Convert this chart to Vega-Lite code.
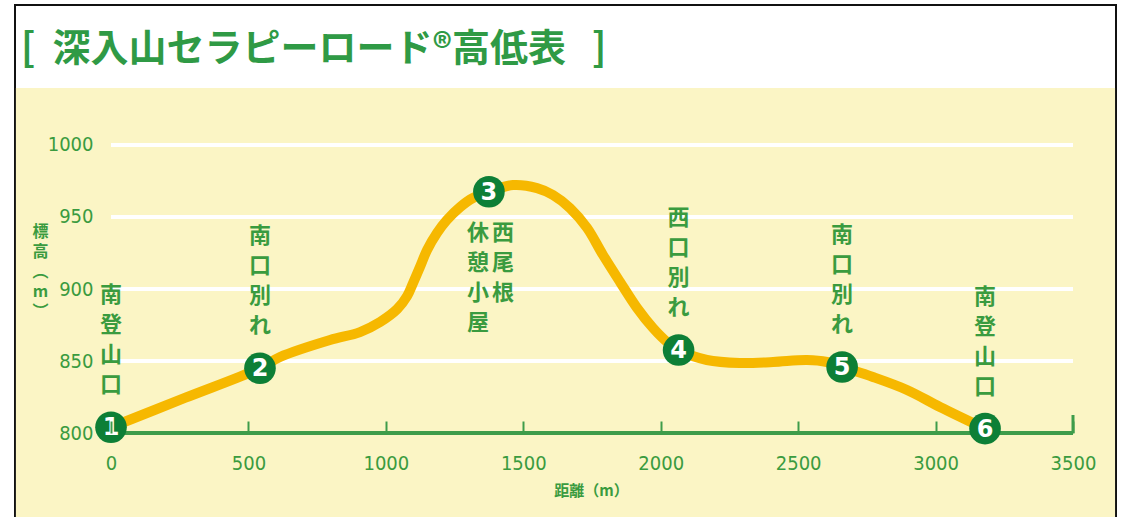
{
  "$schema": "https://vega.github.io/schema/vega-lite/v6.json",
  "width": 1101,
  "height": 514,
  "autosize": {"type": "none"},
  "padding": {"left": 15, "top": 5, "right": 6, "bottom": 0},
  "background": "white",
  "config": {
    "view": {"stroke": "#111111", "strokeWidth": 2, "fill": "white"}
  },
  "title": {
    "text": "[\u00a0\u00a0深入山セラピーロード®高低表\u00a0\u00a0\u00a0]",
    "anchor": "start",
    "frame": "group",
    "orient": "top",
    "offset": -83,
    "baseline": "middle",
    "dx": 6,
    "font": "Noto Sans CJK JP",
    "fontSize": 38,
    "fontWeight": "bold",
    "color": "#2F9A45"
  },
  "datasets": {
    "panel": [{"area": "plot"}],
    "grid": [{"elev": 850}, {"elev": 900}, {"elev": 950}, {"elev": 1000}],
    "base": [{"elev": 800}],
    "endtick": [{"dist": 3500}],
    "profile": [
      {"dist": 0, "elev": 804},
      {"dist": 271, "elev": 824.5},
      {"dist": 542, "elev": 845},
      {"dist": 615, "elev": 852.8},
      {"dist": 797, "elev": 864.6},
      {"dist": 906, "elev": 870.1},
      {"dist": 979, "elev": 877.1},
      {"dist": 1041, "elev": 886},
      {"dist": 1077, "elev": 895},
      {"dist": 1099, "elev": 904.2},
      {"dist": 1124, "elev": 915.3},
      {"dist": 1150, "elev": 927.1},
      {"dist": 1186, "elev": 938.9},
      {"dist": 1222, "elev": 947.9},
      {"dist": 1270, "elev": 956.9},
      {"dist": 1317, "elev": 963.2},
      {"dist": 1375, "elev": 967.5},
      {"dist": 1463, "elev": 972.2},
      {"dist": 1550, "elev": 970.1},
      {"dist": 1608, "elev": 965.3},
      {"dist": 1670, "elev": 956.2},
      {"dist": 1732, "elev": 942.4},
      {"dist": 1790, "elev": 923.6},
      {"dist": 1852, "elev": 904.9},
      {"dist": 1914, "elev": 886.8},
      {"dist": 1972, "elev": 872.9},
      {"dist": 2023, "elev": 863.2},
      {"dist": 2065, "elev": 857.6},
      {"dist": 2168, "elev": 850.7},
      {"dist": 2288, "elev": 848.6},
      {"dist": 2409, "elev": 849.3},
      {"dist": 2532, "elev": 850.7},
      {"dist": 2605, "elev": 849.3},
      {"dist": 2660, "elev": 845.8},
      {"dist": 2772, "elev": 838.9},
      {"dist": 2896, "elev": 829.9},
      {"dist": 3016, "elev": 818.1},
      {"dist": 3180, "elev": 803}
    ],
    "points": [
      {"no": "1", "dist": 0, "elev": 804},
      {"no": "2", "dist": 542, "elev": 845},
      {"no": "3", "dist": 1375, "elev": 967.5},
      {"no": "4", "dist": 2065, "elev": 857.6},
      {"no": "5", "dist": 2660, "elev": 845.8},
      {"no": "6", "dist": 3180, "elev": 803}
    ],
    "labels": [
      {"dist": 0, "elev": 804, "name": "南\n登\n山\n口"},
      {"dist": 542, "elev": 845, "name": "南\n口\n別\nれ"},
      {"dist": 2065, "elev": 857.6, "name": "西\n口\n別\nれ"},
      {"dist": 2660, "elev": 845.8, "name": "南\n口\n別\nれ"},
      {"dist": 3180, "elev": 803, "name": "南\n登\n山\n口"}
    ],
    "labels3": [
      {"dist": 1375, "elev": 967.5, "name": "西\n尾\n根", "col": "right"},
      {"dist": 1375, "elev": 967.5, "name": "休\n憩\n小\n屋", "col": "left"}
    ]
  },
  "layer": [
    {
      "data": {"name": "panel"},
      "mark": {"type": "rect", "color": "#FBF5C5"},
      "encoding": {
        "x": {"datum": -346, "type": "quantitative", "scale": {"domain": [-349.27, 3656.44], "nice": false, "zero": false}},
        "x2": {"datum": 3653},
        "y": {"datum": 1039.6, "type": "quantitative", "scale": {"domain": [740.28, 1097.22], "nice": false, "zero": false}},
        "y2": {"datum": 740.28}
      }
    },
    {
      "data": {"name": "grid"},
      "mark": {"type": "rule", "color": "white", "strokeWidth": 4},
      "encoding": {
        "x": {"datum": 0, "type": "quantitative", "scale": {"domain": [-349.27, 3656.44], "nice": false, "zero": false}},
        "x2": {"datum": 3500},
        "y": {"field": "elev", "type": "quantitative", "scale": {"domain": [740.28, 1097.22], "nice": false, "zero": false}}
      }
    },
    {
      "data": {"name": "base"},
      "mark": {"type": "rule", "color": "#3E9C4A", "strokeWidth": 4},
      "encoding": {
        "x": {"datum": 0, "type": "quantitative", "scale": {"domain": [-349.27, 3656.44], "nice": false, "zero": false},
          "axis": {
            "orient": "bottom", "offset": -86, "zindex": 1, "values": [0, 500, 1000, 1500, 2000, 2500, 3000, 3500], "format": "d",
            "domain": false, "grid": false, "ticks": true, "tickSize": -12, "tickWidth": 2, "tickColor": "#3E9C4A",
            "labelPadding": 32, "labelFont": "Liberation Sans Narrow, DejaVu Sans Condensed", "labelFontSize": 20, "labelColor": "#3A9B3F",
            "title": "距離（m）", "titleX": 576, "titleY": 57, "titleBaseline": "middle", "titleAlign": "center",
            "titleFont": "Noto Sans CJK JP", "titleFontSize": 15, "titleFontWeight": "bold", "titleColor": "#3A9B3F"
          }
        },
        "x2": {"datum": 3500},
        "y": {"field": "elev", "type": "quantitative", "scale": {"domain": [740.28, 1097.22], "nice": false, "zero": false},
          "axis": {
            "orient": "left", "offset": -96, "zindex": 1, "values": [800, 850, 900, 950, 1000], "format": "d",
            "domain": false, "grid": false, "ticks": false, "labelPadding": 18,
            "labelFont": "Liberation Sans Narrow, DejaVu Sans Condensed", "labelFontSize": 20, "labelColor": "#3A9B3F",
            "title": ["標", "高", "︵", "m", "︶"], "titleAngle": 0, "titleX": -71, "titleY": 218,
            "titleAlign": "center", "titleBaseline": "top", "titleLineHeight": 20,
            "titleFont": "Noto Sans CJK JP", "titleFontSize": 16, "titleFontWeight": "bold", "titleColor": "#3A9B3F"
          }
        }
      }
    },
    {
      "data": {"name": "endtick"},
      "mark": {"type": "rule", "color": "#3E9C4A", "strokeWidth": 3},
      "encoding": {
        "x": {"field": "dist", "type": "quantitative", "scale": {"domain": [-349.27, 3656.44], "nice": false, "zero": false}},
        "y": {"datum": 800, "type": "quantitative", "scale": {"domain": [740.28, 1097.22], "nice": false, "zero": false}},
        "y2": {"datum": 812.5}
      }
    },
    {
      "data": {"name": "profile"},
      "mark": {"type": "line", "color": "#F6B800", "strokeWidth": 10, "interpolate": "catmull-rom", "strokeCap": "round"},
      "encoding": {
        "x": {"field": "dist", "type": "quantitative", "scale": {"domain": [-349.27, 3656.44], "nice": false, "zero": false}},
        "y": {"field": "elev", "type": "quantitative", "scale": {"domain": [740.28, 1097.22], "nice": false, "zero": false}}
      }
    },
    {
      "data": {"name": "points"},
      "mark": {"type": "point", "shape": "circle", "filled": true, "size": 1000, "color": "#0D7F36", "opacity": 1},
      "encoding": {
        "x": {"field": "dist", "type": "quantitative", "scale": {"domain": [-349.27, 3656.44], "nice": false, "zero": false}},
        "y": {"field": "elev", "type": "quantitative", "scale": {"domain": [740.28, 1097.22], "nice": false, "zero": false}}
      }
    },
    {
      "data": {"name": "points"},
      "mark": {"type": "text", "color": "white", "font": "DejaVu Sans", "fontSize": 24, "fontWeight": "bold", "baseline": "middle", "align": "center", "dy": 1},
      "encoding": {
        "x": {"field": "dist", "type": "quantitative", "scale": {"domain": [-349.27, 3656.44], "nice": false, "zero": false}},
        "y": {"field": "elev", "type": "quantitative", "scale": {"domain": [740.28, 1097.22], "nice": false, "zero": false}},
        "text": {"field": "no"}
      }
    },
    {
      "data": {"name": "labels"},
      "mark": {"type": "text", "color": "#3A9B3F", "font": "Noto Sans CJK JP", "fontSize": 22, "fontWeight": "bold", "baseline": "bottom", "align": "center", "lineBreak": "\n", "lineHeight": 30, "dy": -120},
      "encoding": {
        "x": {"field": "dist", "type": "quantitative", "scale": {"domain": [-349.27, 3656.44], "nice": false, "zero": false}},
        "y": {"field": "elev", "type": "quantitative", "scale": {"domain": [740.28, 1097.22], "nice": false, "zero": false}},
        "text": {"field": "name"}
      }
    },
    {
      "data": {"name": "labels3"},
      "transform": [{"filter": "datum.col === 'right'"}],
      "mark": {"type": "text", "color": "#3A9B3F", "font": "Noto Sans CJK JP", "fontSize": 22, "fontWeight": "bold", "baseline": "top", "align": "center", "lineBreak": "\n", "lineHeight": 30, "dy": 31, "dx": 14},
      "encoding": {
        "x": {"field": "dist", "type": "quantitative", "scale": {"domain": [-349.27, 3656.44], "nice": false, "zero": false}},
        "y": {"field": "elev", "type": "quantitative", "scale": {"domain": [740.28, 1097.22], "nice": false, "zero": false}},
        "text": {"field": "name"}
      }
    },
    {
      "data": {"name": "labels3"},
      "transform": [{"filter": "datum.col === 'left'"}],
      "mark": {"type": "text", "color": "#3A9B3F", "font": "Noto Sans CJK JP", "fontSize": 22, "fontWeight": "bold", "baseline": "top", "align": "center", "lineBreak": "\n", "lineHeight": 30, "dy": 31, "dx": -11},
      "encoding": {
        "x": {"field": "dist", "type": "quantitative", "scale": {"domain": [-349.27, 3656.44], "nice": false, "zero": false}},
        "y": {"field": "elev", "type": "quantitative", "scale": {"domain": [740.28, 1097.22], "nice": false, "zero": false}},
        "text": {"field": "name"}
      }
    }
  ]
}
